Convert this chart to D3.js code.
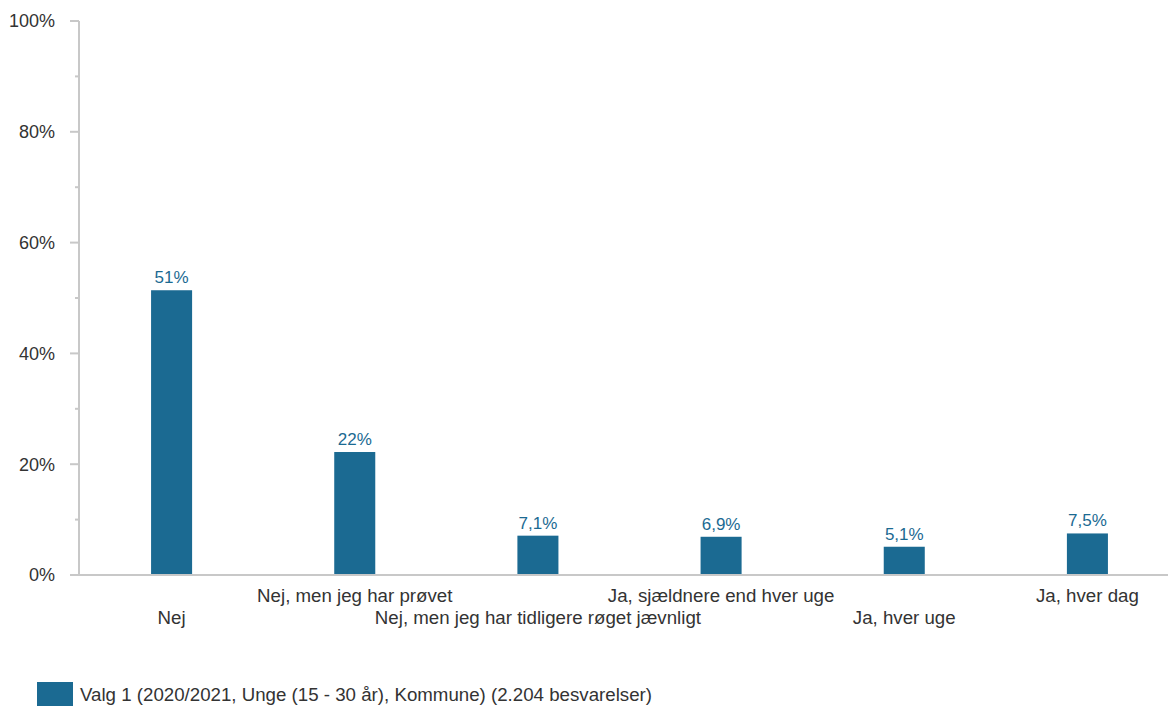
<!DOCTYPE html>
<html><head><meta charset="utf-8">
<script src="https://cdn.jsdelivr.net/npm/d3@7"></script>
<style>body{margin:0;background:#fff;}svg{display:block;font-family:Arial,"Liberation Sans",sans-serif;}</style>
</head><body>
<svg id="c" width="1168" height="706"></svg>
<script>
const categories = ["Nej","Nej, men jeg har prøvet","Nej, men jeg har tidligere røget jævnligt","Ja, sjældnere end hver uge","Ja, hver uge","Ja, hver dag"];
const values = [51.4, 22.2, 7.1, 6.9, 5.1, 7.5];
const valueLabels = ["51%","22%","7,1%","6,9%","5,1%","7,5%"];
const yTicks = [0,20,40,60,80,100];
const yMinorTicks = [10,30,50,70,90];
const legendLabel = "Valg 1 (2020/2021, Unge (15 - 30 år), Kommune) (2.204 besvarelser)";

const svg = d3.select("#c");
const barColor = "#1b6a92";
const axisColor = "#c8c8c8";
const textColor = "#333333";

const x = d3.scaleBand().domain(categories).range([80, 1179]).paddingInner(0.776).paddingOuter(0.388);
const y = d3.scaleLinear().domain([0,100]).range([575, 21]);

svg.append("line").attr("x1",79).attr("x2",79).attr("y1",y(100)).attr("y2",y(0))
  .attr("stroke",axisColor).attr("stroke-width",2);
svg.selectAll(".mt").data(yTicks).enter().append("line")
  .attr("x1",70).attr("x2",79).attr("y1",d=>y(d)).attr("y2",d=>y(d))
  .attr("stroke",axisColor).attr("stroke-width",2);
svg.selectAll(".nt").data(yMinorTicks).enter().append("line")
  .attr("x1",75).attr("x2",79).attr("y1",d=>y(d)).attr("y2",d=>y(d))
  .attr("stroke",axisColor).attr("stroke-width",2);
svg.selectAll(".yl").data(yTicks).enter().append("text")
  .attr("x",55).attr("y",d=>y(d)).attr("dy","0.35em").attr("text-anchor","end")
  .attr("font-size",18).attr("fill",textColor).text(d=>d+"%");

svg.selectAll(".bar").data(values).enter().append("rect")
  .attr("x",(d,i)=>x(categories[i])).attr("width",x.bandwidth())
  .attr("y",d=>y(d)).attr("height",d=>y(0)-y(d)).attr("fill",barColor);
svg.selectAll(".vl").data(values).enter().append("text")
  .attr("x",(d,i)=>x(categories[i])+x.bandwidth()/2).attr("y",d=>y(d)-7)
  .attr("text-anchor","middle").attr("font-size",17).attr("fill",barColor)
  .text((d,i)=>valueLabels[i]);

svg.append("line").attr("x1",70).attr("x2",1168).attr("y1",y(0)).attr("y2",y(0))
  .attr("stroke",axisColor).attr("stroke-width",2);

svg.selectAll(".cl").data(categories).enter().append("text")
  .attr("x",d=>x(d)+x.bandwidth()/2).attr("y",(d,i)=> i%2===0 ? 617 : 595).attr("dy","0.35em")
  .attr("text-anchor","middle").attr("font-size",18.7).attr("fill",textColor).text(d=>d);

svg.append("rect").attr("x",37).attr("y",682).attr("width",36).attr("height",24).attr("fill",barColor);
svg.append("text").attr("x",80).attr("y",694).attr("dy","0.35em").attr("font-size",18.7)
  .attr("fill",textColor).text(legendLabel);
</script>
</body></html>
